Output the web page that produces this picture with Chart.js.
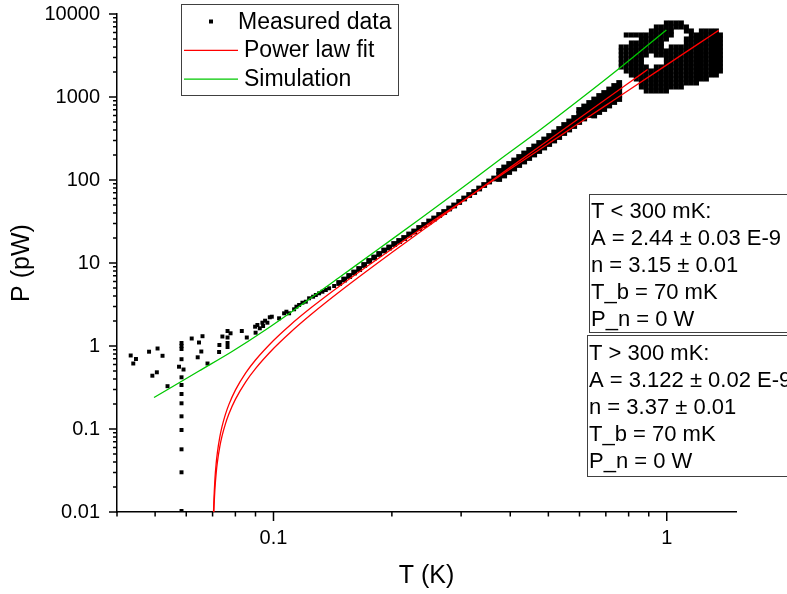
<!DOCTYPE html>
<html>
<head>
<meta charset="utf-8">
<script src="https://cdn.jsdelivr.net/npm/chart.js@4.4.1/dist/chart.umd.min.js"></script>
<style>
  html, body { margin: 0; padding: 0; background: #fff; }
  #wrap { width: 787px; height: 594px; }
</style>
</head>
<body>
<div id="wrap"><canvas id="myChart" width="787" height="594"></canvas></div>
<script>
// measured data : scattered points at low T (K, pW)
const lowT = [0.04334, 0.04400, 0.04470, 0.04826, 0.04920, 0.05051, 0.05072, 0.05222, 0.05377, 0.05751, 0.05905,
  0.05836, 0.05836, 0.05836, 0.05836, 0.05836, 0.05836, 0.05836, 0.05836, 0.05836, 0.05836, 0.05836, 0.05836, 0.05836,
  0.06195, 0.06465, 0.06416, 0.06553, 0.06599, 0.06795, 0.07285, 0.07272, 0.07414,
  0.07641, 0.07641, 0.07641, 0.07641,
  0.07777, 0.08306, 0.08553, 0.09005, 0.08979, 0.09100, 0.09229, 0.09371, 0.09409, 0.09520, 0.09649, 0.09786, 0.09901,
  0.10333, 0.10641, 0.10785, 0.10957, 0.11283, 0.11436, 0.11618, 0.11845, 0.12083, 0.12319, 0.12611, 0.12812, 0.13062, 0.13317, 0.13585, 0.13851, 0.14262];
const lowP = [0.7686, 0.6154, 0.6972, 0.8538, 0.4387, 0.4822, 0.9330, 0.7622, 0.3280, 0.5630, 0.5208,
  1.0868, 1.0, 0.9201, 0.6933, 0.4196, 0.3390, 0.2641, 0.2040, 0.1422, 0.09726, 0.05692, 0.03009, 0.01028,
  1.2312, 1.1020, 0.7309, 0.8585, 1.3122, 0.6154, 1.0281, 0.8468, 1.3014,
  1.5162, 1.2660, 1.0868, 0.9726,
  1.4226, 1.5162, 1.2660, 1.4465, 1.7085, 1.7909, 1.6339, 1.9090, 1.7418, 2.0179, 1.9090, 2.2172, 2.2544,
  2.1565, 2.4768, 2.5892, 2.4768, 2.7683, 2.9758, 3.1193, 3.3240, 3.4176, 3.7562, 3.9266, 4.1156, 4.3143, 4.5102, 4.7283, 4.9560, 5.2840];

// measured data : dense band
const bandT = [0.14688, 0.15125, 0.15575, 0.16037, 0.16514, 0.17004, 0.17509, 0.18030, 0.18565, 0.19117,
  0.19685, 0.20270, 0.20872, 0.21492, 0.22131, 0.22789, 0.23466, 0.24163, 0.24881, 0.25620,
  0.26381, 0.27165, 0.27972, 0.28803, 0.29659, 0.30541, 0.31448, 0.32382, 0.33345, 0.34335,
  0.35355, 0.36406, 0.37488, 0.38601, 0.39749, 0.40930, 0.42146, 0.43398, 0.44688, 0.46016,
  0.47383, 0.48791, 0.50241, 0.51734, 0.53271, 0.54854, 0.56484, 0.58162, 0.59891, 0.61670,
  0.63503, 0.65390, 0.67333, 0.69334, 0.71394, 0.73516, 0.75700];
const bandP = [5.742, 6.326, 6.972, 7.685, 8.467, 9.460, 10.571, 11.650, 12.837, 14.150,
  15.378, 16.944, 18.415, 20.013, 22.052, 23.966, 26.408, 28.701, 31.623, 34.368,
  37.870, 41.159, 45.353, 49.290, 54.311, 59.845, 65.942, 71.668, 78.970, 87.016,
  95.88, 104.25, 114.92, 126.63, 139.53, 153.75, 169.41, 186.67, 205.70, 226.66,
  249.75, 275.20, 303.24, 334.14, 368.18, 411.59, 453.53, 499.72, 558.5, 615.4,
  678.1, 747.3, 823.5, 894.8, 986.2, 1086.9, 1181.0];
// upper / lower edges of the band (last points of bandT)
const bandHiP = [128.41, 141.50, 155.91, 171.80, 189.30, 208.59, 229.85, 253.27, 279.07, 307.51,
  338.84, 373.37, 411.40, 459.91, 506.77, 558.39, 624.1, 687.6, 757.7, 835.0,
  920.2, 999.8, 1102.0, 1214.5, 1319.6];
const bandLoP = [102.84, 113.32, 124.87, 137.59, 151.60, 167.05, 184.08, 202.84, 223.50, 246.28,
  271.37, 299.02, 329.48, 368.33, 405.86, 447.20, 499.8, 550.7, 606.8, 668.8,
  736.9, 800.8, 882.5, 972.7, 1056.9];
const bandHi2P = [697.3, 768.4, 846.7, 933.1, 1028.2, 1117.2, 1231.3, 1357.1, 1474.6];
const bandLo2P = [598.5, 659.5, 716.7, 789.8, 870.5, 945.9];

// measured data : cloud above 0.75 K, one list of P per column
const cloudT = [0.766, 0.789, 0.813, 0.837, 0.862, 0.887, 0.914, 0.941, 0.969, 0.998, 1.027,
  1.058, 1.089, 1.122, 1.155, 1.190, 1.225, 1.261, 1.299, 1.337, 1.369];
const cloudP = [
  [4004, 3583, 3206, 2870, 2568, 2298],
  [5585, 4004, 3583, 3206, 2870, 2568, 2298, 2057],
  [5585, 4473, 4004, 3583, 3206, 2870, 2568, 2298, 2057, 1841],
  [5585, 4473, 4004, 3583, 3206, 2870, 2568, 2298, 2057, 1841, 1648],
  [5585, 4998, 4473, 4004, 3583, 3206, 2870, 2568, 2298, 2057, 1841, 1648, 1475, 1320],
  [5585, 4998, 4473, 4004, 3583, 3206, 2298, 2057, 1841, 1648, 1475, 1320, 1181],
  [6240, 5585, 4998, 4473, 4004, 3583, 2057, 1841, 1648, 1475, 1320, 1181],
  [6971, 6240, 5585, 4998, 4473, 4004, 3583, 3206, 2298, 2057, 1841, 1648, 1475, 1320, 1181],
  [6971, 6240, 5585, 4998, 4473, 4004, 3583, 3206, 2298, 2057, 1841, 1648, 1475, 1320, 1181],
  [7792, 6971, 6240, 5585, 4998, 3583, 3206, 2870, 2568, 2298, 2057, 1841, 1648, 1475, 1320, 1181],
  [7792, 6971, 6240, 5585, 4004, 3583, 3206, 2870, 2568, 2298, 2057, 1841, 1648, 1475, 1320],
  [7792, 6971, 4004, 3583, 3206, 2870, 2568, 2298, 2057, 1841, 1648, 1475, 1320],
  [7792, 6971, 4004, 3583, 3206, 2870, 2568, 2298, 2057, 1841, 1648, 1475, 1320],
  [6971, 6240, 4998, 4473, 4004, 3583, 3206, 2870, 2568, 2298, 2057, 1841, 1648, 1475],
  [6240, 5585, 4998, 4473, 4004, 3583, 3206, 2870, 2568, 2298, 2057, 1841, 1648, 1475],
  [5585, 4998, 4473, 4004, 3583, 3206, 2870, 2568, 2298, 2057, 1841, 1648, 1475],
  [6240, 5585, 4998, 4473, 4004, 3583, 3206, 2870, 2568, 2298, 2057, 1841, 1648],
  [6240, 5585, 4998, 4473, 4004, 3583, 3206, 2870, 2568, 2298, 2057, 1841, 1648],
  [6240, 5585, 4998, 4473, 4004, 3583, 3206, 2870, 2568, 2298, 2057, 1841],
  [6240, 5585, 4998, 4473, 4004, 3583, 3206, 2870, 2568, 2298, 2057, 1841],
  [5585, 4998, 4473, 4004, 3583, 3206, 2870, 2568, 2298, 2057]
];

// power law fit, T < 300 mK parameters
const fitLowT = [0.0703, 0.0704, 0.0705, 0.071, 0.0715, 0.072, 0.073, 0.074, 0.0755, 0.077, 0.08, 0.085, 0.09,
  0.1, 0.11, 0.125, 0.15, 0.2, 0.25, 0.3, 0.4, 0.5, 0.7, 0.8, 1.0, 1.2, 1.355];
const fitLowP = [0.00762, 0.01017, 0.01273, 0.02566, 0.03879, 0.05212, 0.07937, 0.10744, 0.15110, 0.19669, 0.29368, 0.47368, 0.67790,
  1.16577, 1.7711, 2.9257, 5.633, 14.774, 30.41, 54.43, 135.53, 274.3, 792.7, 1207.9, 2439.4, 4332.4, 6351.5];
// power law fit, T > 300 mK parameters
const fitHighT = [0.0703, 0.0705, 0.0706, 0.071, 0.0715, 0.072, 0.073, 0.074, 0.0755, 0.077, 0.08, 0.085, 0.09,
  0.1, 0.11, 0.125, 0.15, 0.2, 0.25, 0.3, 0.4, 0.5, 0.7, 0.8, 0.894];
const fitHighP = [0.00581, 0.00972, 0.01168, 0.01960, 0.02965, 0.03987, 0.06081, 0.08244, 0.11623, 0.15163, 0.22752, 0.36984, 0.53343,
  0.93146, 1.43629, 2.42505, 4.8229, 13.369, 28.81, 53.59, 141.98, 301.57, 938.3, 1471.8, 2140.0];

// simulation
const simT = [0.04968, 0.06465, 0.07846, 0.09576, 0.1162, 0.1469, 0.1857, 0.2347, 0.2967, 0.3750, 0.4740, 0.6355, 0.7708, 0.9977];
const simP = [0.2396, 0.4998, 0.8585, 1.580, 2.991, 6.689, 14.95, 33.43, 75.77, 174.2, 394.8, 1148, 2363, 6417];

const fitBelow = ['T < 300 mK:', 'A = 2.44 \u00B1 0.03 E-9', 'n = 3.15 \u00B1 0.01', 'T_b = 70 mK', 'P_n = 0 W'];
const fitAbove = ['T > 300 mK:', 'A = 3.122 \u00B1 0.02 E-9', 'n = 3.37 \u00B1 0.01', 'T_b = 70 mK', 'P_n = 0 W'];

const FONT = '"Liberation Sans", Arial, sans-serif';
const GREEN = '#00c800';

const pairs = (xs, ys) => ys.map((y, i) => ({ x: xs[i], y: y }));
const tail = (xs, n) => xs.slice(xs.length - n);

const scattered = pairs(lowT, lowP);
const band = [
  ...pairs(bandT, bandP),
  ...pairs(tail(bandT, bandHiP.length), bandHiP),
  ...pairs(tail(bandT, bandLoP.length), bandLoP),
  ...pairs(tail(bandT, bandHi2P.length), bandHi2P),
  ...pairs(tail(bandT, bandLo2P.length), bandLo2P)
];
const cloud = [];
cloudT.forEach((t, i) => cloudP[i].forEach(p => cloud.push({ x: t, y: p })));

function logTicks(min, max) {
  const out = [];
  for (let e = Math.floor(Math.log10(min)); e <= Math.ceil(Math.log10(max)); e++) {
    for (let m = 1; m <= 9; m++) {
      const v = m * Math.pow(10, e);
      if (v >= min * 0.9999 && v <= max * 1.0001) out.push({ v: v, major: m === 1 });
    }
  }
  return out;
}
function isDecade(v) {
  const l = Math.log10(v);
  return Math.abs(l - Math.round(l)) < 1e-6;
}
function fmt(v) {
  return v >= 1 ? String(Math.round(v)) : String(Number(v.toPrecision(1)));
}

// minor / major tick marks like the original plot
const tickMarks = {
  id: 'tickMarks',
  afterDraw(chart) {
    const { ctx, chartArea } = chart;
    const xs = chart.scales.x, ys = chart.scales.y;
    ctx.save();
    ctx.strokeStyle = '#000';
    ctx.lineWidth = 1.5;
    ctx.beginPath();
    logTicks(xs.min, xs.max).forEach(t => {
      const px = xs.getPixelForValue(t.v);
      ctx.moveTo(px, chartArea.bottom);
      ctx.lineTo(px, chartArea.bottom + (t.major ? 9 : 4.5));
    });
    logTicks(ys.min, ys.max).forEach(t => {
      const py = ys.getPixelForValue(t.v);
      ctx.moveTo(chartArea.left, py);
      ctx.lineTo(chartArea.left - (t.major ? 8 : 4), py);
    });
    ctx.stroke();
    ctx.restore();
  }
};

// legend box and the two parameter boxes
const legendRows = [{ ds: 3, kind: 'point' }, { ds: 0, kind: 'line' }, { ds: 2, kind: 'line' }];
const boxes = [
  { left: 589, top: 194, bottom: 332, base: 217.5, lines: fitBelow },
  { left: 587, top: 335, bottom: 476, base: 359.5, lines: fitAbove }
];
const annotations = {
  id: 'annotations',
  afterDraw(chart) {
    const ctx = chart.ctx;
    ctx.save();
    ctx.fillStyle = '#fff';
    ctx.fillRect(182, 5, 216, 90);
    ctx.strokeStyle = '#404040';
    ctx.lineWidth = 1;
    ctx.strokeRect(181.5, 4.5, 217, 91);
    ctx.font = '23px ' + FONT;
    ctx.textBaseline = 'alphabetic';
    legendRows.forEach((row, i) => {
      const ds = chart.data.datasets[row.ds];
      const base = 28.5 + i * 28.8;
      const mid = base - 7;
      if (row.kind === 'point') {
        ctx.fillStyle = ds.backgroundColor;
        ctx.fillRect(209, mid - 2, 4, 4);
        ctx.fillStyle = '#000';
        ctx.fillText(ds.label, 238, base);
      } else {
        ctx.strokeStyle = ds.borderColor;
        ctx.lineWidth = 1.3;
        ctx.beginPath();
        ctx.moveTo(184, mid);
        ctx.lineTo(238, mid);
        ctx.stroke();
        ctx.fillStyle = '#000';
        ctx.fillText(ds.label, 244, base);
      }
    });
    ctx.font = '22px ' + FONT;
    boxes.forEach(b => {
      ctx.fillStyle = '#fff';
      ctx.fillRect(b.left, b.top, 800 - b.left, b.bottom - b.top);
      ctx.strokeStyle = '#404040';
      ctx.lineWidth = 1;
      ctx.strokeRect(b.left + 0.5, b.top + 0.5, 800 - b.left, b.bottom - b.top);
      ctx.fillStyle = '#000';
      b.lines.forEach((txt, i) => ctx.fillText(txt, b.left + 2, b.base + i * 27.2));
    });
    ctx.restore();
  }
};

const ctx = document.getElementById('myChart');
new Chart(ctx, {
  type: 'scatter',
  data: {
    datasets: [
      { label: 'Power law fit', data: pairs(fitLowT, fitLowP), showLine: true, borderColor: '#ff0000', borderWidth: 1.3,
        pointRadius: 0, cubicInterpolationMode: 'monotone', order: 1 },
      { label: 'Power law fit', data: pairs(fitHighT, fitHighP), showLine: true, borderColor: '#ff0000', borderWidth: 1.3,
        pointRadius: 0, cubicInterpolationMode: 'monotone', order: 1 },
      { label: 'Simulation', data: pairs(simT, simP), showLine: true, borderColor: GREEN, borderWidth: 1.3,
        pointRadius: 0, cubicInterpolationMode: 'monotone', order: 0 },
      { label: 'Measured data', data: scattered, pointStyle: 'rect', pointRadius: 2.8, borderWidth: 0,
        backgroundColor: '#000', borderColor: '#000', order: 5 },
      { label: 'Measured data (band)', data: band, pointStyle: 'rect', pointRadius: 4.1, borderWidth: 0,
        backgroundColor: '#000', borderColor: '#000', order: 6 },
      { label: 'Measured data (cloud)', data: cloud, pointStyle: 'rect', pointRadius: 3.6, borderWidth: 0,
        backgroundColor: '#000', borderColor: '#000', order: 7 }
    ]
  },
  options: {
    responsive: false,
    animation: false,
    events: [],
    devicePixelRatio: 1,
    layout: { padding: { left: 0, right: 51, top: 0, bottom: 0 } },
    plugins: { legend: { display: false }, tooltip: { enabled: false } },
    scales: {
      x: {
        type: 'logarithmic', position: 'bottom', min: 0.04, max: 1.5,
        afterFit: s => { s.height = 82; s.paddingLeft = 0; s.paddingRight = 0; },
        grid: { display: false, drawTicks: false },
        border: { display: true, color: '#000', width: 1.5 },
        ticks: { autoSkip: false, maxRotation: 0, padding: 14, color: '#000', font: { family: FONT, size: 20 },
          callback: v => isDecade(v) ? fmt(v) : '' },
        title: { display: true, text: 'T (K)', color: '#000', font: { family: FONT, size: 25 }, padding: { top: 0, bottom: 3 } }
      },
      y: {
        type: 'logarithmic', position: 'left', min: 0.01, max: 10000,
        afterFit: s => { s.width = 117; s.paddingTop = 14; s.paddingBottom = 0; },
        grid: { display: false, drawTicks: false },
        border: { display: true, color: '#000', width: 1.5 },
        ticks: { autoSkip: false, padding: 17, color: '#000', font: { family: FONT, size: 20 },
          callback: v => isDecade(v) ? fmt(v) : '' },
        title: { display: true, text: 'P (pW)', color: '#000', font: { family: FONT, size: 25 }, padding: { top: 7, bottom: 0 } }
      }
    }
  },
  plugins: [tickMarks, annotations]
});
</script>
</body>
</html>
